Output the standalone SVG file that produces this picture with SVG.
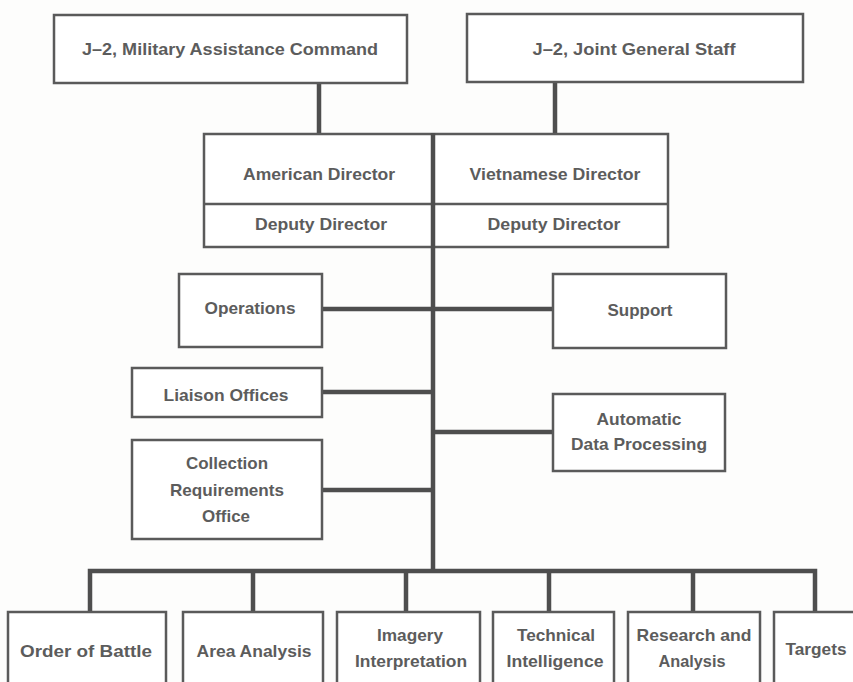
<svg xmlns="http://www.w3.org/2000/svg" width="853" height="682" viewBox="0 0 853 682">
  <style>
    .box { fill: #ffffff; stroke: #5a5a5a; stroke-width: 2.5; }
    .link { fill: none; stroke: #4e4e4e; stroke-width: 4.5; stroke-linecap: butt; }
    .divider { fill: none; stroke: #5a5a5a; stroke-width: 2.5; }
    text { font-family: "Liberation Sans", Arial, sans-serif; font-size: 17px; font-weight: bold; fill: #5c5c5c; text-anchor: middle; }
  </style>
  <rect width="853" height="682" fill="#fdfdfc"/>

  <!-- connectors -->
  <g id="connectors">
    <line class="link" x1="319" y1="83" x2="319" y2="134"/>
    <line class="link" x1="555" y1="82" x2="555" y2="134"/>
    <line class="link" x1="433" y1="133" x2="433" y2="572"/>
    <line class="link" x1="322" y1="309" x2="553" y2="309"/>
    <line class="link" x1="322" y1="392" x2="433" y2="392"/>
    <line class="link" x1="433" y1="432" x2="553" y2="432"/>
    <line class="link" x1="322" y1="490" x2="433" y2="490"/>
    <path class="link" d="M90 612 V571 H815 V612"/>
    <line class="link" x1="253" y1="571" x2="253" y2="612"/>
    <line class="link" x1="406" y1="571" x2="406" y2="612"/>
    <line class="link" x1="549" y1="571" x2="549" y2="612"/>
    <line class="link" x1="693" y1="571" x2="693" y2="612"/>
  </g>

  <g id="j2-macv">
    <rect class="box" x="54" y="15" width="353" height="68"/>
    <text x="230" y="55" textLength="296" lengthAdjust="spacingAndGlyphs">J–2, Military Assistance Command</text>
  </g>

  <g id="j2-jgs">
    <rect class="box" x="467" y="14" width="336" height="68"/>
    <text x="634" y="55" textLength="203" lengthAdjust="spacingAndGlyphs">J–2, Joint General Staff</text>
  </g>

  <g id="directors">
    <rect class="box" x="204" y="134" width="464" height="113"/>
    <line class="divider" x1="204" y1="204" x2="668" y2="204"/>
    <line class="link" x1="433" y1="133" x2="433" y2="248"/>
    <text x="319" y="180" textLength="152" lengthAdjust="spacingAndGlyphs">American Director</text>
    <text x="555" y="180" textLength="171" lengthAdjust="spacingAndGlyphs">Vietnamese Director</text>
    <text x="321" y="230" textLength="132" lengthAdjust="spacingAndGlyphs">Deputy Director</text>
    <text x="554" y="230" textLength="133" lengthAdjust="spacingAndGlyphs">Deputy Director</text>
  </g>

  <g id="operations">
    <rect class="box" x="179" y="274" width="143" height="73"/>
    <text x="250" y="314" textLength="91" lengthAdjust="spacingAndGlyphs">Operations</text>
  </g>

  <g id="support">
    <rect class="box" x="553" y="274" width="173" height="74"/>
    <text x="640" y="316" textLength="65" lengthAdjust="spacingAndGlyphs">Support</text>
  </g>

  <g id="liaison-offices">
    <rect class="box" x="132" y="368" width="190" height="49"/>
    <text x="226" y="401" textLength="125" lengthAdjust="spacingAndGlyphs">Liaison Offices</text>
  </g>

  <g id="automatic-data-processing">
    <rect class="box" x="553" y="394" width="172" height="77"/>
    <text x="639" y="425" textLength="85" lengthAdjust="spacingAndGlyphs">Automatic</text>
    <text x="639" y="450" textLength="136" lengthAdjust="spacingAndGlyphs">Data Processing</text>
  </g>

  <g id="collection-requirements-office">
    <rect class="box" x="132" y="440" width="190" height="99"/>
    <text x="227" y="469" textLength="82" lengthAdjust="spacingAndGlyphs">Collection</text>
    <text x="227" y="496" textLength="114" lengthAdjust="spacingAndGlyphs">Requirements</text>
    <text x="226" y="522" textLength="48" lengthAdjust="spacingAndGlyphs">Office</text>
  </g>

  <g id="order-of-battle">
    <rect class="box" x="8" y="612" width="158" height="80"/>
    <text x="86" y="657" textLength="132" lengthAdjust="spacingAndGlyphs">Order of Battle</text>
  </g>

  <g id="area-analysis">
    <rect class="box" x="183" y="612" width="140" height="80"/>
    <text x="254" y="657" textLength="115" lengthAdjust="spacingAndGlyphs">Area Analysis</text>
  </g>

  <g id="imagery-interpretation">
    <rect class="box" x="337" y="612" width="143" height="80"/>
    <text x="410" y="641" textLength="66" lengthAdjust="spacingAndGlyphs">Imagery</text>
    <text x="411" y="667" textLength="112" lengthAdjust="spacingAndGlyphs">Interpretation</text>
  </g>

  <g id="technical-intelligence">
    <rect class="box" x="493" y="612" width="121" height="80"/>
    <text x="556" y="641" textLength="78" lengthAdjust="spacingAndGlyphs">Technical</text>
    <text x="555" y="667" textLength="97" lengthAdjust="spacingAndGlyphs">Intelligence</text>
  </g>

  <g id="research-and-analysis">
    <rect class="box" x="628" y="612" width="132" height="80"/>
    <text x="694" y="641" textLength="115" lengthAdjust="spacingAndGlyphs">Research and</text>
    <text x="692" y="667" textLength="67" lengthAdjust="spacingAndGlyphs">Analysis</text>
  </g>

  <g id="targets">
    <rect class="box" x="774" y="612" width="90" height="80"/>
    <text x="816" y="655" textLength="61" lengthAdjust="spacingAndGlyphs">Targets</text>
  </g>
</svg>
